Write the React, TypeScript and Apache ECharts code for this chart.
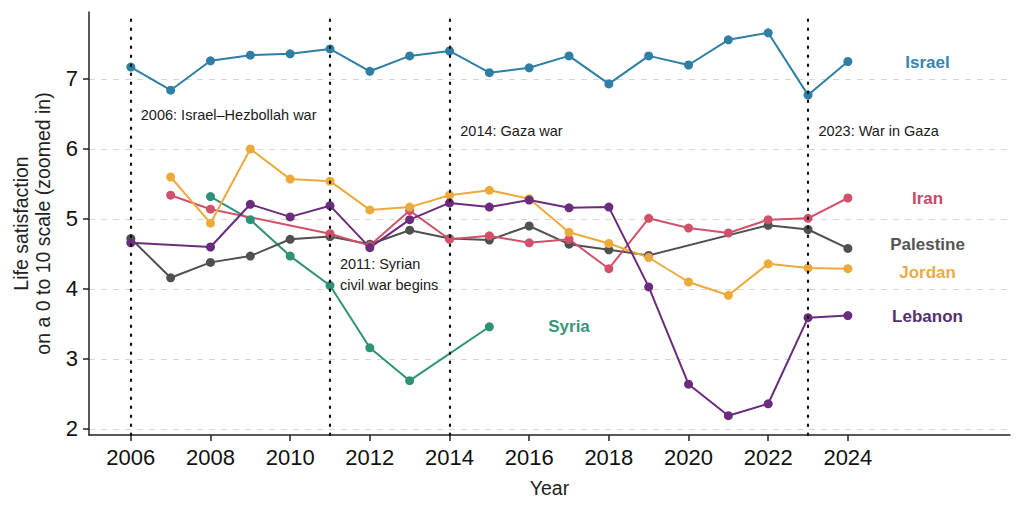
import { useEffect, useRef } from "react";
import * as echarts from "echarts";

const years = [
    2006, 2007, 2008, 2009, 2010, 2011, 2012, 2013, 2014, 2015,
    2016, 2017, 2018, 2019, 2020, 2021, 2022, 2023, 2024
];

const israel = [
    7.17, 6.84, 7.26, 7.34, 7.36, 7.43, 7.11, 7.33, 7.40, 7.09,
    7.16, 7.33, 6.93, 7.33, 7.20, 7.56, 7.66, 6.77, 7.25
];
const iran = [
    null, 5.34, 5.14, null, null, 4.79, 4.62, 5.12, 4.71, 4.76,
    4.66, 4.71, 4.29, 5.01, 4.87, 4.80, 4.99, 5.01, 5.30
];
const palestine = [
    4.72, 4.16, 4.38, 4.47, 4.71, 4.75, 4.64, 4.84, 4.72, 4.70,
    4.90, 4.64, 4.56, 4.48, null, null, 4.91, 4.85, 4.58
];
const jordan = [
    null, 5.60, 4.94, 6.00, 5.57, 5.54, 5.13, 5.17, 5.34, 5.41,
    5.29, 4.81, 4.65, 4.45, 4.10, 3.91, 4.36, 4.30, 4.29
];
const lebanon = [
    4.66, null, 4.60, 5.21, 5.03, 5.19, 4.59, 4.99, 5.23, 5.17,
    5.27, 5.16, 5.17, 4.03, 2.64, 2.19, 2.36, 3.59, 3.62
];
const syria = [
    null, null, 5.32, 4.99, 4.47, 4.05, 3.16, 2.69, null, 3.46,
    null, null, null, null, null, null, null, null, null
];

const eventYears = [2006, 2011, 2014, 2023];
const eventNotes = [
    { x: 2006.25, y: 6.49, text: "2006: Israel\u2013Hezbollah war" },
    { x: 2011.25, y: 4.2, text: "2011: Syrian\ncivil war begins" },
    { x: 2014.27, y: 6.26, text: "2014: Gaza war" },
    { x: 2023.26, y: 6.26, text: "2023: War in Gaza" }
];

const countryLabels = [
    { name: "Israel", x: 2026, y: 7.24 },
    { name: "Iran", x: 2026, y: 5.29 },
    { name: "Palestine", x: 2026, y: 4.63 },
    { name: "Jordan", x: 2026, y: 4.24 },
    { name: "Lebanon", x: 2026, y: 3.61 },
    { name: "Syria", x: 2017, y: 3.47 }
];

const xTicks = [2006, 2008, 2010, 2012, 2014, 2016, 2018, 2020, 2022, 2024];
const yTicks = [2, 3, 4, 5, 6, 7];

const colors: Record<string, string> = {
    Israel: "#2E7EA6",
    Iran: "#D1516B",
    Palestine: "#505050",
    Jordan: "#EBAA3A",
    Lebanon: "#6A2C7C",
    Syria: "#2E9278"
};

const labelColors: Record<string, string> = {
    Israel: "#3585AE",
    Iran: "#C9496A",
    Palestine: "#555555",
    Jordan: "#E9AC45",
    Lebanon: "#55306E",
    Syria: "#38957C"
};

const seriesData: [string, (number | null)[]][] = [
    ["Syria", syria],
    ["Palestine", palestine],
    ["Iran", iran],
    ["Jordan", jordan],
    ["Lebanon", lebanon],
    ["Israel", israel]
];

const font = "Liberation Sans, Arial, sans-serif";

function App() {

    const chartRef = useRef<HTMLDivElement>(null);

    useEffect(() => {

        if (!chartRef.current)
            return;

        document.body.style.margin = "0";

        const chart = echarts.init(chartRef.current, null, { renderer: "svg" });

        const lines = seriesData.map(([name, values]) => ({
            name,
            type: "line",
            data: years.map((yr, i) => [yr, values[i]]),
            connectNulls: true,
            symbol: "circle",
            symbolSize: 9,
            itemStyle: { color: colors[name] },
            lineStyle: { color: colors[name], width: 2 },
            z: 3
        }));

        chart.setOption({
            animation: false,
            textStyle: { fontFamily: font },
            grid: { left: 89, right: 14, top: 12, bottom: 77 },
            xAxis: {
                type: "value",
                min: 2004.95,
                max: 2028.07,
                name: "Year",
                nameLocation: "middle",
                nameGap: 43,
                nameTextStyle: { fontSize: 19.5, color: "#222" },
                axisLine: { lineStyle: { color: "#222", width: 1.5 } },
                axisTick: {
                    customValues: xTicks,
                    length: 6,
                    lineStyle: { color: "#222", width: 1.5 }
                },
                axisLabel: {
                    customValues: xTicks,
                    fontSize: 22,
                    color: "#111",
                    margin: 11,
                    formatter: (v: number) => String(v)
                },
                splitLine: { show: false }
            },
            yAxis: {
                type: "value",
                min: 1.914,
                max: 7.957,
                name: "Life satisfaction\non a 0 to 10 scale (zoomed in)",
                nameLocation: "middle",
                nameGap: 35,
                nameTextStyle: { fontSize: 19.5, color: "#222", lineHeight: 22 },
                axisLine: { show: true, lineStyle: { color: "#222", width: 1.5 } },
                axisTick: {
                    show: true,
                    customValues: yTicks,
                    length: 6,
                    lineStyle: { color: "#222", width: 1.5 }
                },
                axisLabel: {
                    customValues: yTicks,
                    fontSize: 22,
                    color: "#111",
                    margin: 11
                },
                splitLine: {
                    show: true,
                    lineStyle: { color: "#d6d6d6", type: [6, 6], width: 1 }
                }
            },
            series: [
                {
                    name: "events",
                    type: "line",
                    data: [],
                    silent: true,
                    markLine: {
                        symbol: "none",
                        silent: true,
                        label: { show: false },
                        lineStyle: { color: "#111", type: [1.5, 7.5], width: 2.2, cap: "round" },
                        data: eventYears.map((yr) => ({ xAxis: yr }))
                    },
                    z: 1
                },
                ...lines,
                {
                    name: "notes",
                    type: "scatter",
                    symbolSize: 0,
                    silent: true,
                    itemStyle: { opacity: 1 },
                    data: eventNotes.map((n) => ({ value: [n.x, n.y], text: n.text })),
                    label: {
                        show: true,
                        position: "right",
                        distance: 0,
                        fontSize: 14.5,
                        lineHeight: 21,
                        color: "#1a1a1a",
                        opacity: 1,
                        formatter: (p: any) => p.data.text
                    },
                    z: 5
                },
                {
                    name: "countries",
                    type: "scatter",
                    symbolSize: 0,
                    silent: true,
                    itemStyle: { opacity: 1 },
                    data: countryLabels.map((c) => ({
                        value: [c.x, c.y],
                        name: c.name,
                        label: { color: labelColors[c.name] }
                    })),
                    label: {
                        show: true,
                        position: "inside",
                        fontSize: 17,
                        fontWeight: "bold",
                        opacity: 1,
                        formatter: (p: any) => p.name
                    },
                    z: 5
                }
            ]
        });

        return () => {
            chart.dispose();
        };

    }, []);

    return (
        <div
            ref={chartRef}
            style={{ width: "1024px", height: "512px" }}
        />
    );
}

export default App;
